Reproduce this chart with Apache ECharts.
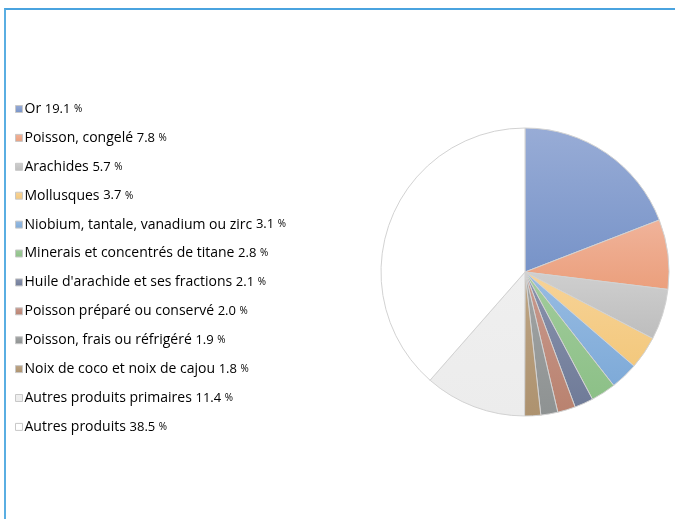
<!DOCTYPE html>
<html>
<head>
<meta charset="utf-8">
<script src="https://cdn.jsdelivr.net/npm/echarts@6/dist/echarts.min.js"></script>
<style>
  html, body { margin: 0; padding: 0; background: #fff; }
  #frame { position: absolute; left: 4px; top: 8px; width: 671px; height: 511px;
           border-top: 2px solid #4aa3df; border-left: 2px solid #5aaee2; }
  #chartmain { position: absolute; left: 0; top: 0; width: 675px; height: 519px; }
</style>
</head>
<body>
<div id="frame"></div>
<div id="chartmain"></div>
<script>
var names = [
  'Or',
  'Poisson, congelé',
  'Arachides',
  'Mollusques',
  'Niobium, tantale, vanadium ou zirc',
  'Minerais et concentrés de titane',
  "Huile d'arachide et ses fractions",
  'Poisson préparé ou conservé',
  'Poisson, frais ou réfrigéré',
  'Noix de coco et noix de cajou',
  'Autres produits primaires',
  'Autres produits',
]
var values = [19.1, 7.8, 5.7, 3.7, 3.1, 2.8, 2.1, 2.0, 1.9, 1.8, 11.4, 38.5]
var topColors = ['#98acd6', '#f0b39a', '#cfcfcf', '#f7d398', '#98bce2', '#a2cc9c', '#8a93ad', '#c99a8f', '#a2a5a5', '#bea584', '#efefef', '#ffffff']
var bottomColors = ['#7793c8', '#eb9f7c', '#bdbdbd', '#f3c87c', '#7eaad8', '#8cc087', '#6f7b98', '#b9826f', '#8e9292', '#ad926f', '#ececec', '#ffffff']

var data = names.map(function (n, i) {
  return {
    name: n,
    value: values[i],
    itemStyle: {
      color: new echarts.graphic.LinearGradient(0, 0, 0, 1, [
        { offset: 0, color: topColors[i] },
        { offset: 1, color: bottomColors[i] },
      ]),
    },
  }
})

var option = {
  backgroundColor: 'rgba(0,0,0,0)',
  animation: false,
  legend: {
    orient: 'vertical',
    left: 10,
    top: 97,
    icon: 'rect',
    itemWidth: 7,
    itemHeight: 7,
    itemGap: 14.9,
    textStyle: {
      color: '#000',
      fontFamily: 'Open Sans',
      fontSize: 14,
      padding: [0, 0, 0, -3],
      rich: {
        v: { fontFamily: 'Open Sans', fontSize: 13, color: '#000' },
        p: { fontFamily: 'Open Sans', fontSize: 10, color: '#000' },
      },
    },
    itemStyle: { borderColor: '#c8c8c8', borderWidth: 1 },
    formatter: function (n) {
      var i = names.indexOf(n)
      return n + ' {v|' + values[i].toFixed(1) + '} {p|%}'
    },
    data: names,
  },
  series: [
    {
      type: 'pie',
      center: [525, 272],
      radius: [0, 144],
      startAngle: 90,
      clockwise: true,
      label: { show: false },
      labelLine: { show: false },
      itemStyle: { borderColor: '#d2d2d2', borderWidth: 1 },
      emphasis: { disabled: true },
      data: data,
    },
  ],
}
//初始化echarts实例
var myChart = echarts.init(document.getElementById('chartmain'))
myChart.setOption(option)
</script>
</body>
</html>
